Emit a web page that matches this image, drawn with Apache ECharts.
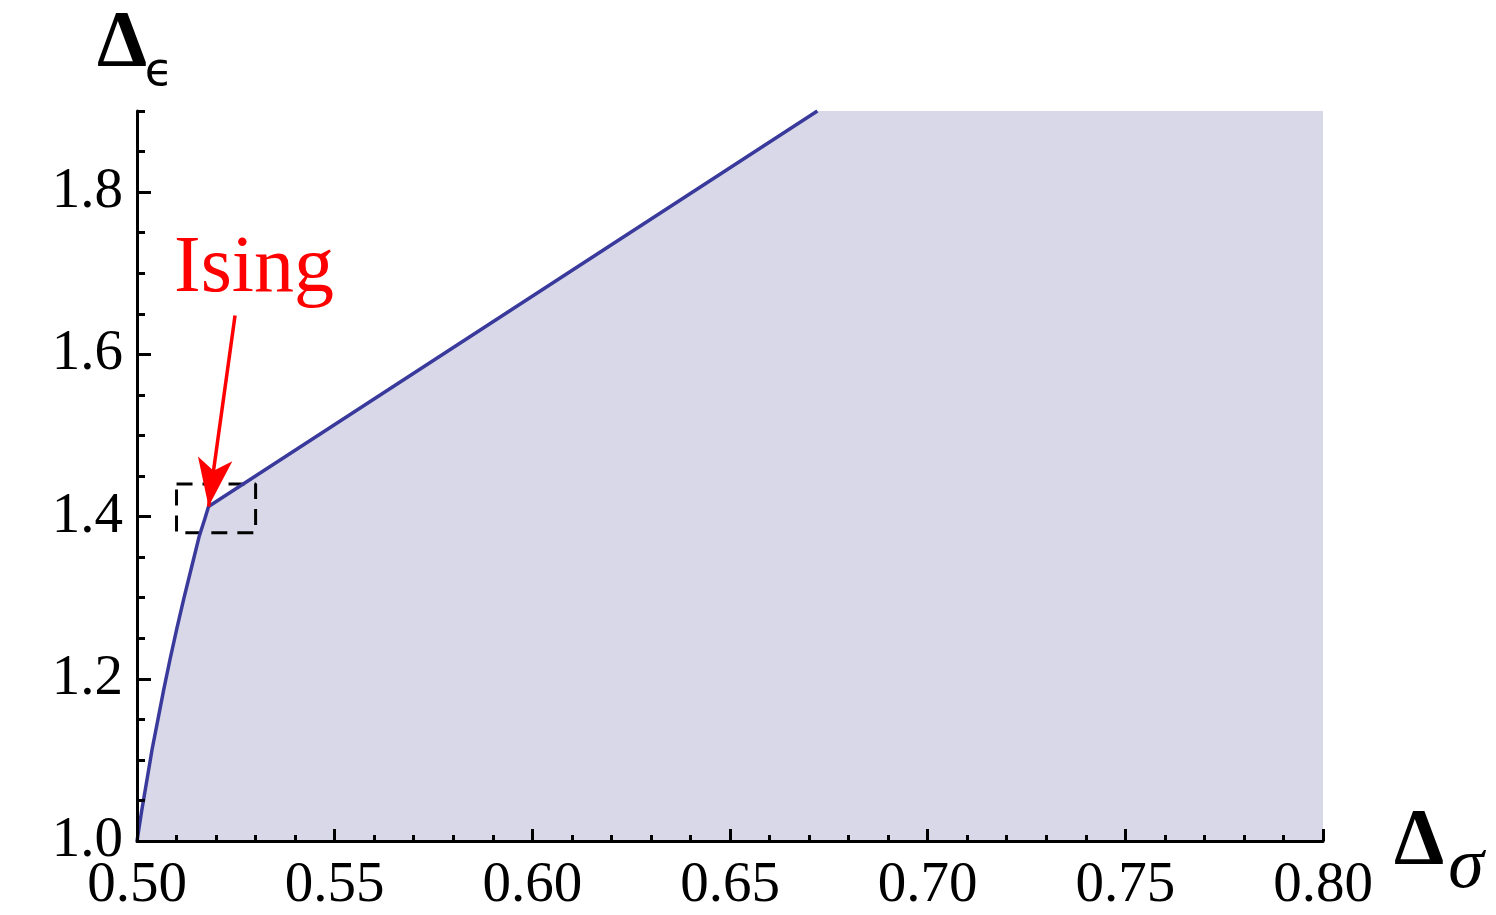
<!DOCTYPE html>
<html>
<head>
<meta charset="utf-8">
<script src="https://cdn.jsdelivr.net/npm/echarts@6/dist/echarts.min.js"></script>
<style>html,body{margin:0;padding:0;background:#fff}#c{width:1496px;height:915px}</style>
</head>
<body>
<div id="c"></div>
<script>
// ---- data ----
const boundX = [0.5, 0.5012, 0.5025, 0.5038, 0.5053, 0.5068, 0.5084, 0.5101, 0.5119, 0.5138, 0.5157, 0.5172, 0.5181, 0.6721];
const boundY = [1.0, 1.0375, 1.075, 1.1125, 1.15, 1.1875, 1.225, 1.2625, 1.30, 1.3375, 1.375, 1.398, 1.4125, 1.9];
const regionCornerX = [0.8];
const regionCornerY = [1.9];
const isingPoint = [0.5181, 1.4125];
const isingLabelPos = [0.5296, 1.704];
const arrowStart = [0.5248, 1.648];
const boxX = [0.51, 0.53, 0.53, 0.51, 0.51];
const boxY = [1.44, 1.44, 1.38, 1.38, 1.44];
const xTicks = [0.50, 0.55, 0.60, 0.65, 0.70, 0.75, 0.80];
const yMajorTicks = [1.0, 1.2, 1.4, 1.6, 1.8];
const yMinorTicks = [1.05, 1.1, 1.15, 1.25, 1.3, 1.35, 1.45, 1.5, 1.55, 1.65, 1.7, 1.75, 1.85, 1.9];
const xLabel = 'Δσ';
const yLabel = 'Δϵ';
const annotationText = 'Ising';

const curve = boundX.map((x, i) => [x, boundY[i]]);
const fill = curve.concat(regionCornerX.map((x, i) => [x, regionCornerY[i]]));
const box = boxX.map((x, i) => [x, boxY[i]]);

const serif = '"Liberation Serif", "Times New Roman", serif';
const chart = echarts.init(document.getElementById('c'));
chart.setOption({
  animation: false,
  backgroundColor: '#fff',
  grid: { left: 137, right: 173, top: 111, bottom: 71 },
  xAxis: {
    type: 'value', min: xTicks[0], max: xTicks[xTicks.length - 1], interval: 0.05, z: 10,
    axisLine: { onZero: false, lineStyle: { color: '#000', width: 3 } },
    axisTick: { inside: true, length: 12, lineStyle: { color: '#000', width: 3 } },
    minorTick: { show: true, splitNumber: 5, length: 6, lineStyle: { color: '#000', width: 3 } },
    splitLine: { show: false },
    axisLabel: { margin: 17, color: '#000', fontFamily: serif, fontSize: 57, formatter: v => v.toFixed(2) }
  },
  yAxis: [{
    type: 'value', min: 1.0, max: 1.9, position: 'left', z: 10,
    axisLine: { onZero: false, lineStyle: { color: '#000', width: 3 } },
    axisTick: { inside: true, length: 8, customValues: yMinorTicks, lineStyle: { color: '#000', width: 3 } },
    axisLabel: { show: false },
    splitLine: { show: false }
  }, {
    type: 'value', min: 1.0, max: 1.9, position: 'left', offset: 0, z: 10,
    axisLine: { show: false, onZero: false },
    axisTick: { inside: true, length: 14, customValues: yMajorTicks, lineStyle: { color: '#000', width: 3 } },
    axisLabel: { customValues: yMajorTicks, margin: 14, color: '#000', fontFamily: serif, fontSize: 57, formatter: v => v.toFixed(1) },
    splitLine: { show: false }
  }],
  graphic: [
    { type: 'text', style: { text: yLabel[0], x: 122, y: 45, align: 'center', verticalAlign: 'middle', font: 'bold 80px "Liberation Serif"', fill: '#000' } },
    { type: 'text', style: { text: yLabel[1], x: 159, y: 73, align: 'center', verticalAlign: 'middle', font: '46px "DejaVu Sans"', fill: '#000' } },
    { type: 'text', style: { text: xLabel[0], x: 1419, y: 843, align: 'center', verticalAlign: 'middle', font: 'bold 80px "Liberation Serif"', fill: '#000' } },
    { type: 'text', style: { text: xLabel[1], x: 1466, y: 868, align: 'center', verticalAlign: 'middle', font: 'italic 72px "Liberation Serif"', fill: '#000' } }
  ],
  series: [
    {
      type: 'line', data: fill, symbol: 'none', silent: true, z: 1,
      lineStyle: { width: 0 },
      areaStyle: { color: '#d8d8e8', opacity: 1, origin: 'start' }
    },
    {
      type: 'line', data: box, symbol: 'none', silent: true, z: 2,
      lineStyle: { color: '#000', width: 3, type: [16, 10] }
    },
    {
      type: 'line', data: curve, symbol: 'none', silent: true, z: 3,
      lineStyle: { color: '#3a3a9c', width: 3.5, join: 'round' }
    },
    {
      type: 'scatter', data: [isingLabelPos], symbolSize: 0, silent: true, z: 5,
      itemStyle: { opacity: 1 },
      label: { show: true, position: 'inside', formatter: annotationText, color: '#ff0000', fontFamily: serif, fontSize: 80 },
      markLine: {
        silent: true, symbol: ['none', 'arrow'], symbolSize: [26, 48],
        lineStyle: { color: '#ff0000', width: 3.5, type: 'solid', opacity: 1 },
        itemStyle: { color: '#ff0000', opacity: 1 },
        label: { show: false },
        data: [[{ coord: arrowStart }, { coord: isingPoint }]]
      }
    }
  ]
});
</script>
</body>
</html>
